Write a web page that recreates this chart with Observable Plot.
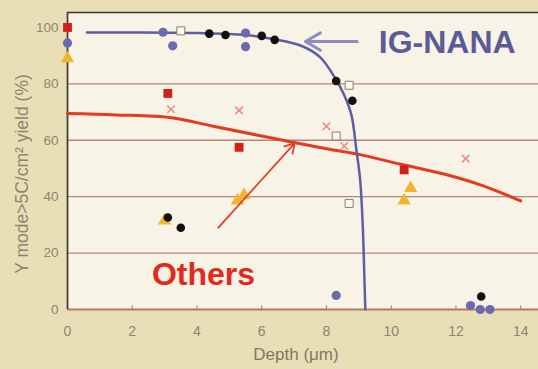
<!DOCTYPE html>
<html><head><meta charset="utf-8">
<script src="https://cdn.jsdelivr.net/npm/d3@7"></script>
<script src="https://cdn.jsdelivr.net/npm/@observablehq/plot@0.6"></script>
<style>
body{margin:0;background:#e9dfb6;}
svg{display:block}
</style></head><body><div id="chart"></div>
<script>
// Measured points
const redSquares = [[0,100],[3.1,76.6],[5.3,57.5],[10.4,49.5]];
const blueCircles = [[0,94.5],[2.95,98.3],[3.25,93.5],[5.5,98],[5.5,93.2],[8.3,5],[12.45,1.4],[12.75,0],[13.05,0]];
const blackCircles = [[4.38,97.8],[4.88,97.3],[6.0,97],[6.4,95.6],[8.3,81],[8.8,74],[3.1,32.6],[3.5,29],[12.78,4.6]];
const openSquares = [[3.5,98.8],[8.7,79.5],[8.3,61.5],[8.7,37.6]];
const yellowTriangles = [[0,89],[3.0,31.5],[5.25,38.6],[5.45,40.5],[10.4,38.6],[10.6,43]];
const pinkCrosses = [[3.2,71],[5.3,70.6],[8.0,65],[8.55,58],[12.3,53.5]];
// Fitted curves as drawn
const igNanaCurve = [[0.6,98.2],[2,98.2],[4,98],[5.5,97.3],[6.4,95.8],[7.2,93.6],[7.8,89.5],[8.27,82],[8.55,76],[8.77,69],[8.92,57],[9.04,46],[9.12,30],[9.17,12],[9.2,0]];
const othersCurve = [[0,69.5],[1.5,69],[3.2,68],[4.5,65],[6,61.5],[8,57],[9,55],[10.3,51.5],[11.8,47.5],[12.8,44],[14,38.5]];
// Annotations
const igArrow = [{x1:8.95,y1:95,x2:7.35,y2:95}];
const othersArrow = [{x1:4.66,y1:29,x2:7.02,y2:59}];
const labels = [{x:11.73,y:94.6,text:"IG-NANA",color:"#5a5c98"},{x:4.2,y:12.4,text:"Others",color:"#e2291c"}];
const xTicks = [0,2,4,6,8,10,12,14];
const yTicks = [0,20,40,60,80,100];
const gridY = [20,40,60,80];
const xTitle = "Depth (μm)";
const yTitle = "Y mode>5C/cm² yield (%)";

const pts = a => a.map(([x,y])=>({x,y}));
const font = "Liberation Sans, Arial, sans-serif";

const plot = Plot.plot({
  width: 538, height: 369,
  marginLeft: 67, marginRight: 0, marginTop: 12, marginBottom: 60,
  style: {background: "transparent", fontFamily: font},
  x: {domain: [0, 14.55]},
  y: {domain: [0, 105.3]},
  marks: [
    Plot.frame({fill: "#f7f3e6", stroke: "none"}),
    Plot.ruleY(gridY, {stroke: "#b9857a", strokeWidth: 1.3}),
    Plot.ruleY([105.3], {stroke: "#3a3530", strokeWidth: 1.5}),
    Plot.ruleX(xTicks.filter(d=>d>0), {x: d=>d, y1: 0, y2: 1.3, stroke:"#a08070", strokeWidth:1}),
    Plot.ruleY([0], {stroke: "#b67a60", strokeWidth: 1.8}),
    Plot.ruleX([0], {stroke: "#4a4035", strokeWidth: 1.8}),
    Plot.axisX({ticks: xTicks, tickSize: 0, tickPadding: 17, fill: "#8c8672", fontSize: 14, label: null}),
    Plot.axisY({ticks: yTicks, tickSize: 0, tickPadding: 9, fill: "#8c8672", fontSize: 13.5, label: null}),
    Plot.text([xTitle], {text: d=>d, frameAnchor: "bottom", dx: -7, dy: 50, fill: "#7d7866", fontSize: 17, fontFamily: font}),
    Plot.text([yTitle], {text: d=>d, frameAnchor: "left", textAnchor: "middle", rotate: -90, dx: -45, dy: 13, fill: "#8c8672", fontSize: 17.5, fontFamily: font}),
    Plot.line(pts(othersCurve), {x:"x", y:"y", curve:"catmull-rom", stroke:"#e63a1f", strokeWidth: 3}),
    Plot.line(pts(igNanaCurve), {x:"x", y:"y", curve:"catmull-rom", stroke:"#5e5ea2", strokeWidth: 2.5}),
    Plot.dot(pts(pinkCrosses), {x:"x", y:"y", symbol:"times", r: 3.5, stroke:"#f08a80", strokeWidth: 1.5}),
    Plot.dot(pts(openSquares), {x:"x", y:"y", symbol:"square", r: 4.5, stroke:"#8a8070", fill:"#fbf8ee", strokeWidth: 1}),
    Plot.dot(pts(yellowTriangles), {x:"x", y:"y", symbol:"triangle", r: 5, fill:"#f0b632", stroke:"none"}),
    Plot.dot(pts(redSquares), {x:"x", y:"y", symbol:"square", r: 5, fill:"#d4201a", stroke:"none"}),
    Plot.dot(pts(blueCircles), {x:"x", y:"y", r: 4.6, fill:"#6a6aae", stroke:"none"}),
    Plot.dot(pts(blackCircles), {x:"x", y:"y", r: 4.3, fill:"#111", stroke:"none"}),
    Plot.arrow(igArrow, {x1:"x1", y1:"y1", x2:"x2", y2:"y2", stroke:"#8e8cc6", strokeWidth: 3, headLength: 10}),
    Plot.arrow(othersArrow, {x1:"x1", y1:"y1", x2:"x2", y2:"y2", stroke:"#e2402c", strokeWidth: 1.8, headLength: 9}),
    Plot.text(labels, {x:"x", y:"y", text:"text", fill: d=>d.color, fontSize: 32, fontWeight: "bold", fontFamily: font})
  ]
});
document.getElementById("chart").appendChild(plot);
</script></body></html>
